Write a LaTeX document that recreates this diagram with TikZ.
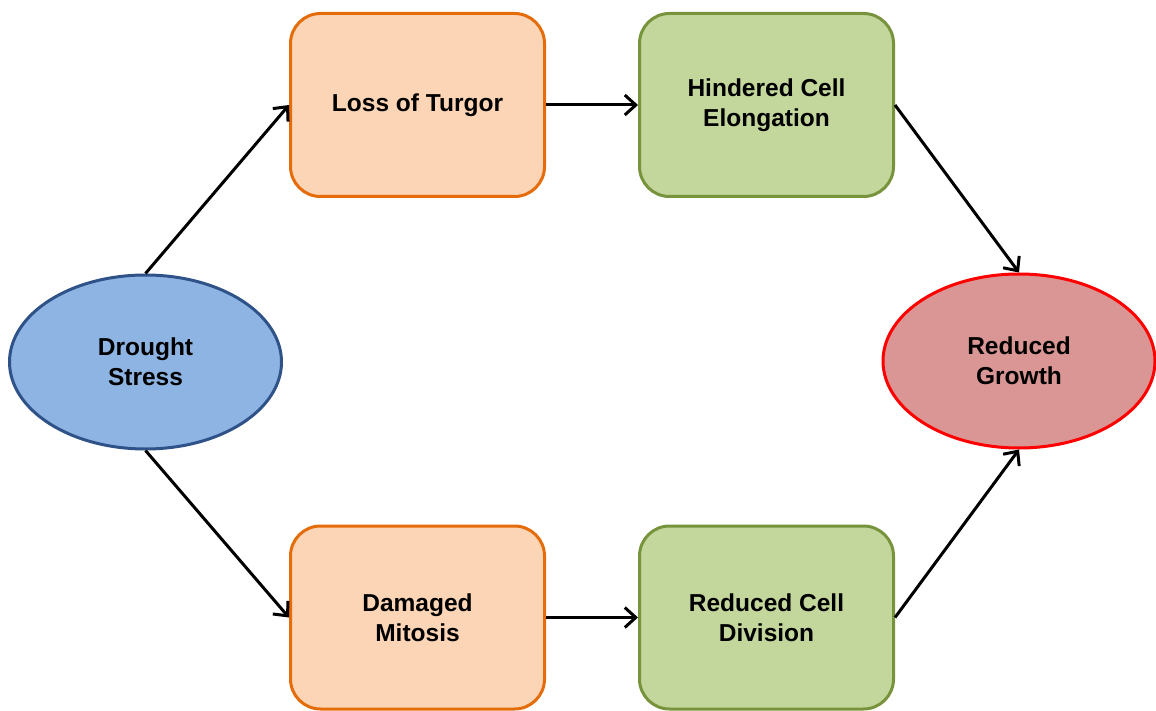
\documentclass[tikz,border=0pt]{standalone}
\usepackage{fontspec}
\setmainfont{Liberation Sans}
\usetikzlibrary{shapes.geometric,arrows.meta}
\definecolor{blueFill}{HTML}{8EB4E3}
\definecolor{blueLine}{HTML}{2F5289}
\definecolor{orFill}{HTML}{FBD5B5}
\definecolor{orLine}{HTML}{E46C0A}
\definecolor{grFill}{HTML}{C3D69B}
\definecolor{grLine}{HTML}{77933C}
\definecolor{rdFill}{HTML}{D99694}
\definecolor{rdLine}{HTML}{FF0000}
\tikzset{
  lbl/.style={font=\fontsize{24.5}{30}\selectfont\bfseries, align=center, text=black},
  oval/.style={ellipse, lbl, line width=3pt, minimum width=272pt, minimum height=174pt, inner sep=0pt},
  stagebox/.style={rectangle, rounded corners=30pt, lbl, line width=3pt, minimum width=254pt, minimum height=183pt, inner sep=0pt},
  orbox/.style={stagebox, draw=orLine, fill=orFill},
  grbox/.style={stagebox, draw=grLine, fill=grFill},
  conn/.style={line width=3pt, draw=black, -{Straight Barb[length=11pt,width=20pt,line width=3pt]}}
}
\begin{document}
\begin{tikzpicture}[x=1pt,y=-1pt]
\useasboundingbox (0,0) rectangle (1156,711);
\node[oval, draw=blueLine, fill=blueFill] (drought) at (145.5,362) {Drought\\Stress};
\node[oval, draw=rdLine, fill=rdFill] (growth) at (1019,361) {Reduced\\Growth};
\node[orbox] (turgor) at (417.5,105) {Loss of Turgor};
\node[grbox] (elong) at (766.5,105) {Hindered Cell\\Elongation};
\node[orbox] (mitosis) at (417.5,617.5) {Damaged\\Mitosis};
\node[grbox] (division) at (766.5,617.5) {Reduced Cell\\Division};
\draw[conn] (drought.north) -- (turgor.west);
\draw[conn] (turgor.east) -- (elong.west);
\draw[conn] (elong.east) -- (growth.north);
\draw[conn] (drought.south) -- (mitosis.west);
\draw[conn] (mitosis.east) -- (division.west);
\draw[conn] (division.east) -- (growth.south);
\end{tikzpicture}
\end{document}
